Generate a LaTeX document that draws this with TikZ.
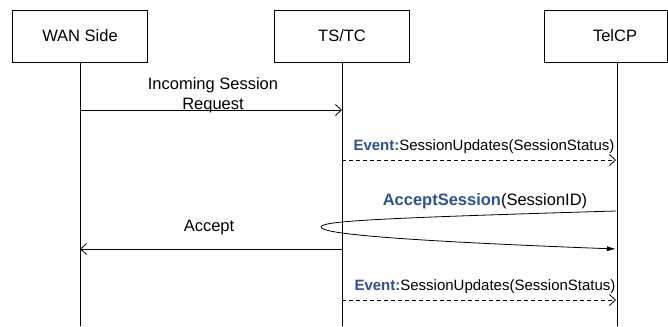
\documentclass[tikz,border=0pt]{standalone}
\usepackage{fontspec}
\setmainfont{Liberation Sans}
\usetikzlibrary{arrows.meta}
\definecolor{evblue}{RGB}{44,82,145}
\begin{document}
\begin{tikzpicture}[x=1pt,y=-1pt,
  box/.style={draw, line width=0.8pt, minimum width=135pt, minimum height=52pt, inner sep=0pt, font=\fontsize{16.5}{20}\selectfont},
  life/.style={line width=0.8pt},
  msg/.style={line width=0.8pt, -{Straight Barb[length=6pt,width=11pt]}},
  dmsg/.style={msg, dash pattern=on 4pt off 3pt},
  lbl/.style={font=\fontsize{16.5}{20}\selectfont, inner sep=0pt, align=center},
  evlbl/.style={font=\fontsize{15}{18}\selectfont, inner sep=0pt}
]
\useasboundingbox (0,0) rectangle (668,326);
% actors
\node[box] (wan) at (80,36) {WAN Side};
\node[box] (tstc) at (342,36) {TS/TC};
\node[box, minimum width=123pt] (telcp) at (605.5,36) {\hspace*{19pt}TelCP};
% lifeline ends
\coordinate (wanEnd) at (80,326);
\coordinate (tstcEnd) at (342,326);
\coordinate (telEnd) at (617,326);
\coordinate (telTop) at (617,62);
\draw[life] (wan.south) -- (wanEnd);
\draw[life] (tstc.south) -- (tstcEnd);
\draw[life] (telTop) -- (telEnd);
% message points
\coordinate (w1) at (80,110);
\coordinate (t1) at (342,110);
\coordinate (t2) at (342,160);
\coordinate (c2) at (616,160);
\coordinate (c3) at (616,211);
\coordinate (tip) at (321,227);
\coordinate (c4) at (616,249);
\coordinate (t5) at (342,249);
\coordinate (w5) at (80,249);
\coordinate (t6) at (342,300);
\coordinate (c6) at (616,300);
% messages
\draw[msg] (w1) -- (t1);
\node[lbl] (l1) at (213,95) {Incoming Session\\Request};
\draw[dmsg] (t2) -- (c2);
\node[evlbl] (l2) at (484,147) {\textcolor{evblue}{\textbf{Event:}}SessionUpdates(SessionStatus)};
\draw[line width=0.8pt, -{Latex[length=9pt,width=5pt]}] (c3) .. controls (380,218) and (321,221) .. (tip) .. controls (321,233) and (380,240) .. (c4);
\node[lbl] (l3) at (485,201) {\textcolor{evblue}{\textbf{AcceptSession}}(SessionID)};
\draw[msg] (t5) -- (w5);
\node[lbl] (l4) at (209,228) {Accept};
\draw[dmsg] (t6) -- (c6);
\node[evlbl] (l5) at (485,287) {\textcolor{evblue}{\textbf{Event:}}SessionUpdates(SessionStatus)};
\end{tikzpicture}
\end{document}
